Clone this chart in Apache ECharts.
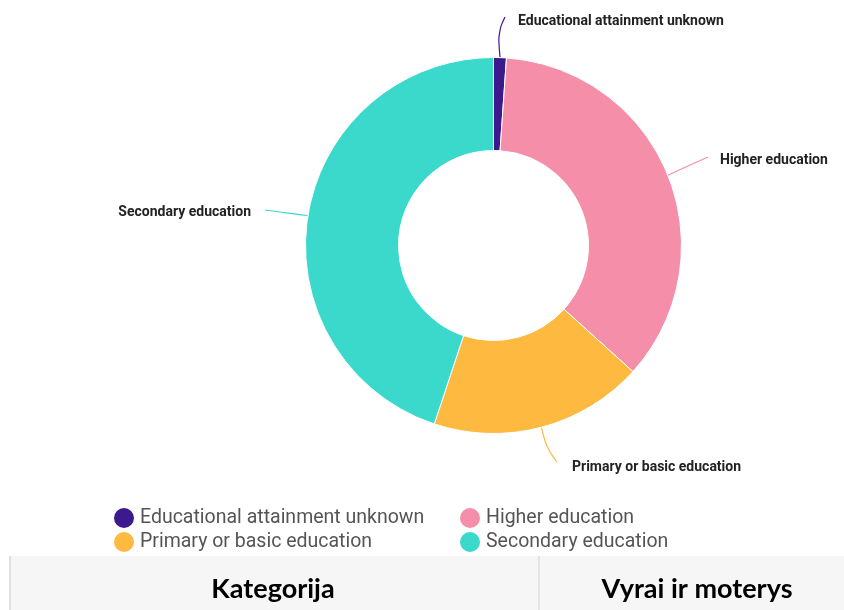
<!DOCTYPE html>
<html>
<head>
<meta charset="UTF-8">
<title>education pie</title>
<script src="https://cdn.jsdelivr.net/npm/echarts@6/dist/echarts.min.js"></script>
<style>
    body { margin: 0; padding: 0; background: #ffffff; }
    #app { width: 844px; height: 610px; }
</style>
</head>
<body>
<div id="app"></div>
<script type="text/javascript">
    // data (share of total, %)
    const categories = ['Educational attainment unknown', 'Higher education', 'Primary or basic education', 'Secondary education'];
    const values = [1.1, 35.6, 18.4, 44.9];
    const colors = ['#3c1a8e', '#f58ea9', '#feb940', '#3bd8cc'];
    const tableHeads = ['Kategorija', 'Vyrai ir moterys'];

    // where each label sits (text anchor + bend of its leader line)
    const labelPos = [
        {x: 518, y: 21, align: 'left', bend: [498, 32], end: [505, 17]},
        {x: 720, y: 160, align: 'left', bend: [690, 165], end: [708, 157]},
        {x: 572, y: 467, align: 'left', bend: [547, 449], end: [557, 462]},
        {x: 251, y: 212, align: 'right', bend: [286, 213], end: [265, 210]}
    ];

    const chart = echarts.init(document.getElementById('app'));

    const pieData = categories.map((name, i) => ({
        name: name,
        value: values[i],
        itemStyle: {color: colors[i]}
    }));

    const legendText = {color: '#555', fontSize: 19.5, fontFamily: 'Roboto'};

    chart.setOption({
        animation: false,
        legend: [
            {
                data: [categories[0], categories[2]],
                orient: 'vertical', left: 107, top: 501,
                icon: 'circle', itemWidth: 22, itemHeight: 22, itemGap: 0,
                textStyle: legendText, selectedMode: false
            },
            {
                data: [categories[1], categories[3]],
                orient: 'vertical', left: 453, top: 501,
                icon: 'circle', itemWidth: 22, itemHeight: 22, itemGap: 0,
                textStyle: legendText, selectedMode: false
            }
        ],
        series: [{
            type: 'pie',
            center: [493.5, 245.5],
            radius: [95, 188],
            startAngle: 90,
            clockwise: true,
            data: pieData,
            itemStyle: {borderColor: '#fff', borderWidth: 1},
            label: {
                show: true,
                color: '#222',
                fontWeight: 'bold',
                fontSize: 14,
                fontFamily: 'Roboto'
            },
            labelLine: {show: true, smooth: 0.4, lineStyle: {width: 1.2}},
            labelLayout: function (params) {
                const p = labelPos[params.dataIndex];
                const start = params.labelLinePoints ? params.labelLinePoints[0] : p.bend;
                return {
                    x: p.x, y: p.y, align: p.align, verticalAlign: 'middle',
                    labelLinePoints: [start, p.bend, p.end]
                };
            }
        }],
        graphic: [
            {type: 'rect', shape: {x: 10, y: 556, width: 834, height: 54}, style: {fill: '#f6f6f6'}},
            {type: 'rect', shape: {x: 9, y: 556, width: 2, height: 54}, style: {fill: '#e0e0e0'}},
            {type: 'rect', shape: {x: 538, y: 556, width: 2, height: 54}, style: {fill: '#e4e4e4'}},
            {type: 'text', x: 273, y: 589, style: {text: tableHeads[0], fill: '#000', font: 'bold 27px Lato', align: 'center', verticalAlign: 'middle'}},
            {type: 'text', x: 697, y: 589, style: {text: tableHeads[1], fill: '#000', font: 'bold 27px Lato', align: 'center', verticalAlign: 'middle'}}
        ]
    });
</script>
</body>
</html>
